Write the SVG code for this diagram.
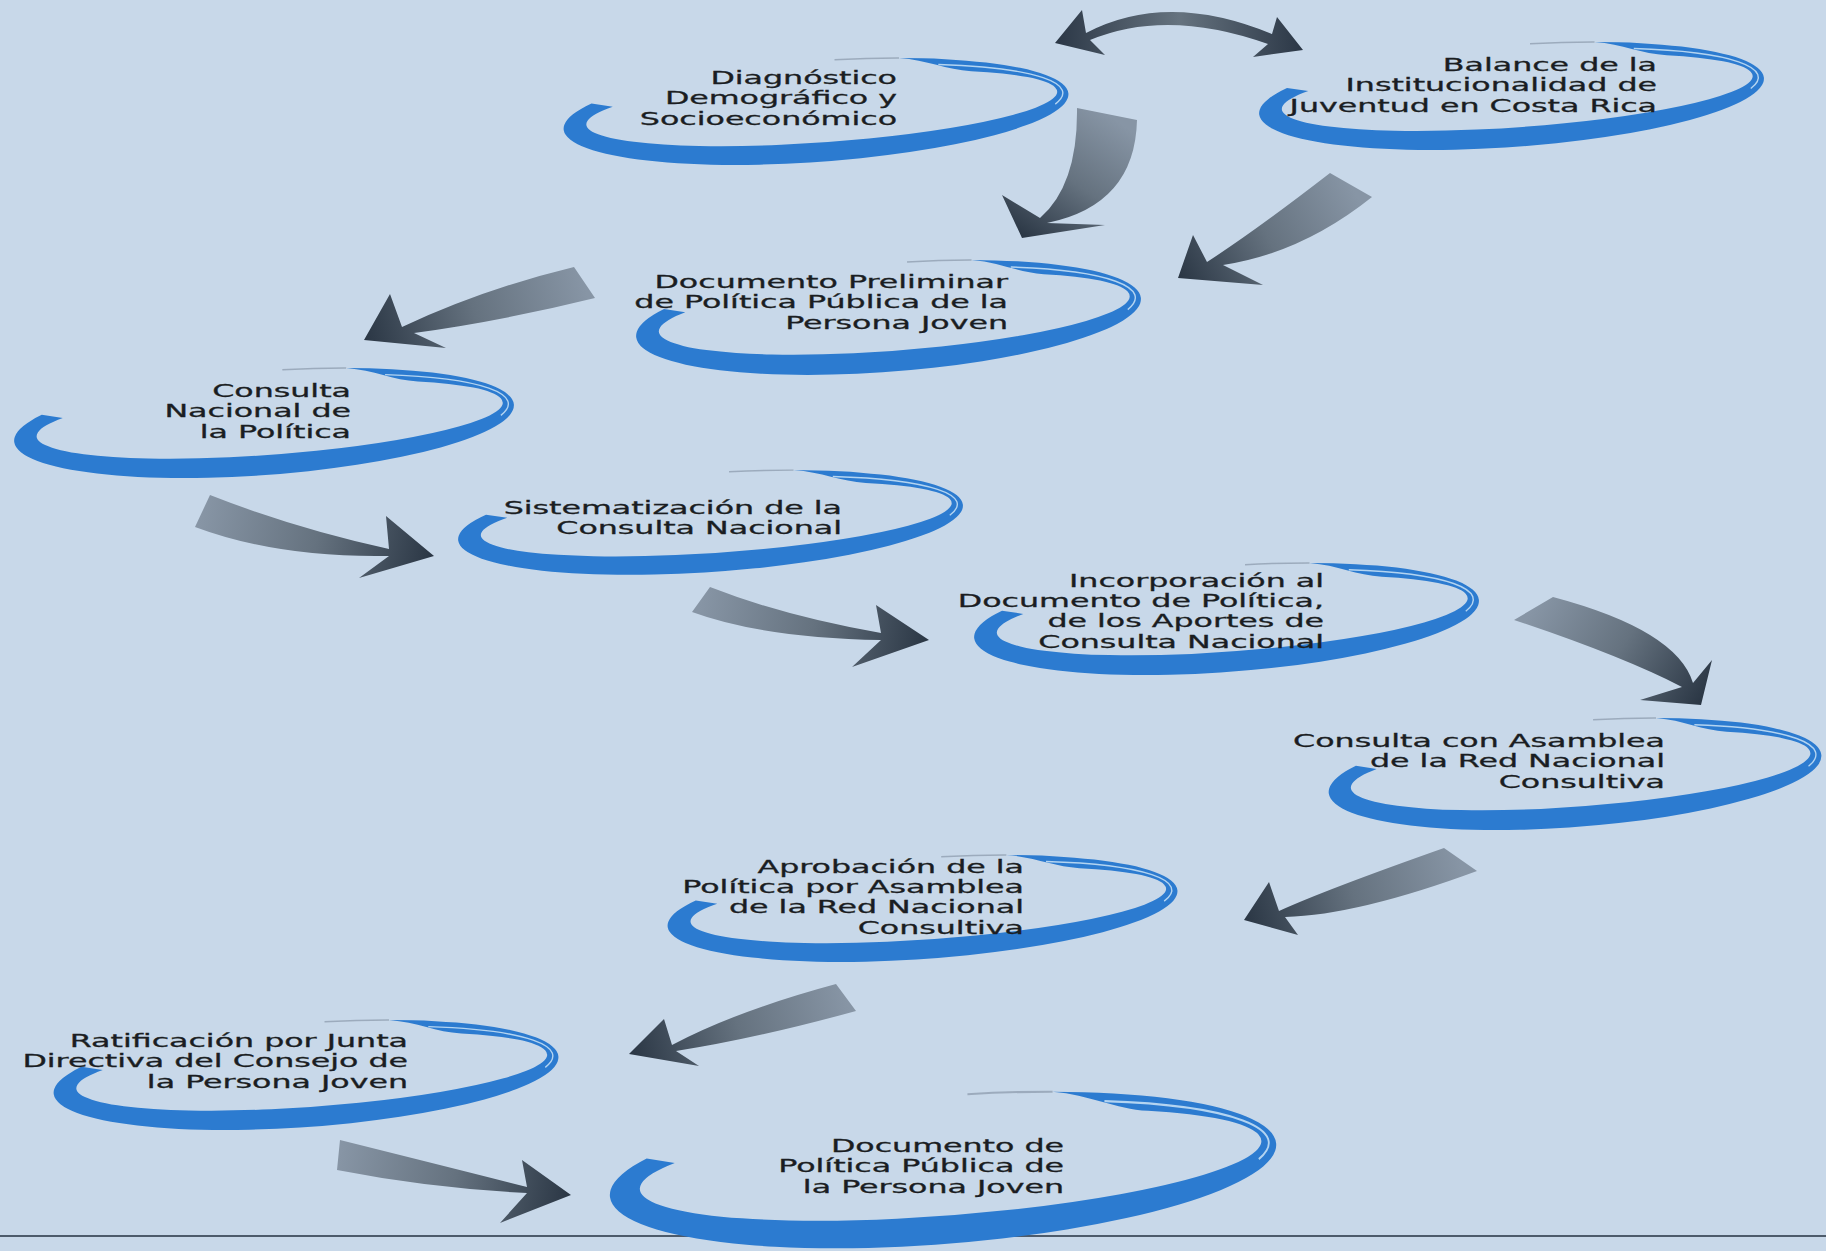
<svg xmlns="http://www.w3.org/2000/svg" width="1826" height="1251" viewBox="0 0 1826 1251">
<style>
.bg{fill:#c8d8e9}
.lbl{font-family:"DejaVu Sans","Liberation Sans",sans-serif;font-size:17.5px;fill:#1a1d22;stroke:#1a1d22;stroke-width:0.3}
.sw{fill:#2c7bd0}
.swl{fill:none;stroke:#b3d4f1;stroke-width:1.4}
.swt{fill:none;stroke:#8d9cae;stroke-width:1.4;opacity:.75}
.rule{stroke:#4d5b6b;stroke-width:2}
</style>
<defs>
<g id="swoosh"><g transform="rotate(-4)">
<path class="sw" d="M -223.4 -23.47 A 253 50 0 1 0 86.5 -47 C 114.5 -43 132.9 -32 157.7 -29.04 A 236 34 0 1 1 -202.4 -18.96 Z"/>
<path class="swl" d="M 125.25 -37.87 A 244.5 42 0 0 1 239.2 9.37"/>
<path class="swt" d="M 86.5 -47 A 253 50 0 0 0 22.05 -49.8"/>
</g></g>
<linearGradient id="ag">
<stop offset="0" stop-color="#8795a5"/><stop offset=".5" stop-color="#65727f"/><stop offset="1" stop-color="#2a3644"/>
</linearGradient>
<linearGradient id="g2" href="#ag" gradientUnits="userSpaceOnUse" x1="1107" y1="114" x2="1022" y2="238"/>
<linearGradient id="g3" href="#ag" gradientUnits="userSpaceOnUse" x1="1351" y1="185" x2="1178" y2="278"/>
<linearGradient id="g4" href="#ag" gradientUnits="userSpaceOnUse" x1="584" y1="282" x2="364" y2="340"/>
<linearGradient id="g5" href="#ag" gradientUnits="userSpaceOnUse" x1="202" y1="511" x2="434" y2="556"/>
<linearGradient id="g6" href="#ag" gradientUnits="userSpaceOnUse" x1="701" y1="600" x2="929" y2="640"/>
<linearGradient id="g7" href="#ag" gradientUnits="userSpaceOnUse" x1="1533" y1="608" x2="1701" y2="705"/>
<linearGradient id="g8" href="#ag" gradientUnits="userSpaceOnUse" x1="1460" y1="860" x2="1244" y2="920"/>
<linearGradient id="g9" href="#ag" gradientUnits="userSpaceOnUse" x1="846" y1="997" x2="629" y2="1054"/>
<linearGradient id="g10" href="#ag" gradientUnits="userSpaceOnUse" x1="340" y1="1155" x2="571" y2="1195"/>
<linearGradient id="gd" x1="0" y1="0" x2="1" y2="0">
<stop offset="0" stop-color="#2b3746"/><stop offset=".5" stop-color="#66737f"/><stop offset="1" stop-color="#2b3746"/>
</linearGradient>
</defs>

<rect class="bg" x="0" y="0" width="1826" height="1251"/>
<line class="rule" x1="0" y1="1236" x2="1826" y2="1236"/>

<g id="connectors">
<path fill="url(#gd)" d="M 1055 43 L 1082 10 L 1086 33 Q 1167 -9.5 1272 34 L 1277 17 L 1303 50 L 1253 57 L 1268 44 Q 1167 8 1090 40 L 1105 55 Z"/>
<path fill="url(#g2)" d="M 1022 238 L 1002 195 L 1040 218 Q 1078 185 1077 108 L 1137 120 Q 1135 205 1047 223 L 1105 225 Z"/>
<path fill="url(#g3)" d="M 1178 278 L 1193 235 L 1207 262 Q 1255 231 1330 173 L 1372 197 Q 1302 253 1223 265 L 1263 285 Z"/>
<path fill="url(#g4)" d="M 364 340 L 390 294 L 402 327 Q 483 289 574 267 L 595 298 Q 502 321 414 333 L 446 348 Z"/>
<path fill="url(#g5)" d="M 434 556 L 386 516 L 389 549 Q 294 528 210 495 L 195 527 Q 278 558 389 556 L 359 578 Z"/>
<path fill="url(#g6)" d="M 929 640 L 876 605 L 881 633 Q 784 616 710 587 L 692 612 Q 763 638 881 640 L 852 667 Z"/>
<path fill="url(#g7)" d="M 1701 705 L 1712 660 L 1693 683 Q 1677 630 1553 597 L 1514 620 Q 1622 656 1682 687 L 1640 700 Z"/>
<path fill="url(#g8)" d="M 1244 920 L 1269 882 L 1279 911 Q 1325 890 1444 848 L 1477 871 Q 1358 915 1285 917 L 1298 935 Z"/>
<path fill="url(#g9)" d="M 629 1054 L 664 1019 L 672 1045 Q 736 1011 836 984 L 856 1011 Q 754 1039 676 1051 L 699 1066 Z"/>
<path fill="url(#g10)" d="M 571 1195 L 522 1160 L 527 1187 Q 456 1169 340 1140 L 337 1170 Q 429 1188 527 1193 L 500 1223 Z"/>
</g>

<g id="diagnostico">
<use href="#swoosh" transform="translate(816,111.5) scale(1,1.01)"/>
<text class="lbl" text-anchor="end" transform="translate(897,84) scale(1.81,1)"><tspan x="0">Diagnóstico</tspan><tspan x="0" dy="20.5">Demográfico y</tspan><tspan x="0" dy="20.5">Socioeconómico</tspan></text>
</g>
<g id="balance">
<use href="#swoosh" transform="translate(1511.5,96) scale(1,1.02)"/>
<text class="lbl" text-anchor="end" transform="translate(1657,71) scale(1.81,1)"><tspan x="0">Balance de la</tspan><tspan x="0" dy="20.5">Institucionalidad de</tspan><tspan x="0" dy="20.5">Juventud en Costa Rica</tspan></text>
</g>
<g id="documento-preliminar">
<use href="#swoosh" transform="translate(888.5,317.5) scale(1,1.085)"/>
<text class="lbl" text-anchor="end" transform="translate(1008,288) scale(1.81,1)"><tspan x="0">Documento Preliminar</tspan><tspan x="0" dy="20.5">de Política Pública de la</tspan><tspan x="0" dy="20.5">Persona Joven</tspan></text>
</g>
<g id="consulta-nacional">
<use href="#swoosh" transform="translate(264,423) scale(0.99,1.04)"/>
<text class="lbl" text-anchor="end" transform="translate(351,397) scale(1.81,1)"><tspan x="0">Consulta</tspan><tspan x="0" dy="20.5">Nacional de</tspan><tspan x="0" dy="20.5">la Política</tspan></text>
</g>
<g id="sistematizacion">
<use href="#swoosh" transform="translate(710.5,522.5) scale(1,0.99)"/>
<text class="lbl" text-anchor="end" transform="translate(842,513.5) scale(1.81,1)"><tspan x="0">Sistematización de la</tspan><tspan x="0" dy="20.5">Consulta Nacional</tspan></text>
</g>
<g id="incorporacion">
<use href="#swoosh" transform="translate(1226.5,619) scale(1,1.06)"/>
<text class="lbl" text-anchor="end" transform="translate(1324,586.5) scale(1.81,1)"><tspan x="0">Incorporación al</tspan><tspan x="0" dy="20.5">Documento de Política,</tspan><tspan x="0" dy="20.5">de los Aportes de</tspan><tspan x="0" dy="20.5">Consulta Nacional</tspan></text>
</g>
<g id="consulta-asamblea">
<use href="#swoosh" transform="translate(1575,774) scale(0.976,1.06)"/>
<text class="lbl" text-anchor="end" transform="translate(1665,747) scale(1.81,1)"><tspan x="0">Consulta con Asamblea</tspan><tspan x="0" dy="20.5">de la Red Nacional</tspan><tspan x="0" dy="20.5">Consultiva</tspan></text>
</g>
<g id="aprobacion">
<use href="#swoosh" transform="translate(922.5,908.5) scale(1.01,1.01)"/>
<text class="lbl" text-anchor="end" transform="translate(1024,872.5) scale(1.81,1)"><tspan x="0">Aprobación de la</tspan><tspan x="0" dy="20.5">Política por Asamblea</tspan><tspan x="0" dy="20.5">de la Red Nacional</tspan><tspan x="0" dy="20.5">Consultiva</tspan></text>
</g>
<g id="ratificacion">
<use href="#swoosh" transform="translate(306,1075) scale(1,1.04)"/>
<text class="lbl" text-anchor="end" transform="translate(408,1047) scale(1.81,1)"><tspan x="0">Ratificación por Junta</tspan><tspan x="0" dy="20.5">Directiva del Consejo de</tspan><tspan x="0" dy="20.5">la Persona Joven</tspan></text>
</g>
<g id="documento-final">
<use href="#swoosh" transform="translate(943,1170) scale(1.32,1.48)"/>
<text class="lbl" text-anchor="end" transform="translate(1064,1152) scale(1.81,1)"><tspan x="0">Documento de</tspan><tspan x="0" dy="20.5">Política Pública de</tspan><tspan x="0" dy="20.5">la Persona Joven</tspan></text>
</g>
</svg>
